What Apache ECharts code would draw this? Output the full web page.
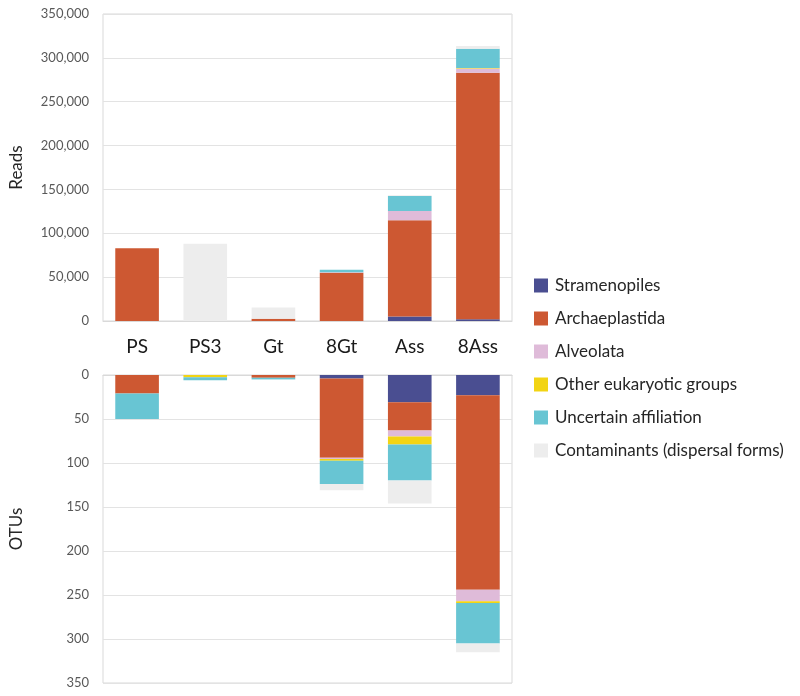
<!DOCTYPE html>
<html><head><meta charset="utf-8">
<script src="https://cdn.jsdelivr.net/npm/echarts@6/dist/echarts.min.js"></script>
<style>html,body{margin:0;padding:0;background:#fff}#c{width:800px;height:696px}</style>
</head><body><div id="c"></div>
<script>
const categories = ['PS','PS3','Gt','8Gt','Ass','8Ass'];
const groups = ['Stramenopiles','Archaeplastida','Alveolata','Other eukaryotic groups','Uncertain affiliation','Contaminants (dispersal forms)'];
const colors = ['#4a4e91','#cd5832','#dfbbd9','#f2d414','#68c5d3','#ededed'];
// Reads (top panel)
const readsStramenopiles = [0, 0, 0, 0, 5000, 2000];
const readsArchaeplastida = [83000, 0, 2500, 55000, 110000, 281000];
const readsAlveolata = [0, 0, 0, 500, 10500, 5000];
const readsOther = [0, 0, 0, 0, 0, 500];
const readsUncertain = [0, 0, 0, 3000, 17000, 22000];
const readsContaminants = [0, 88000, 13000, 0, 1000, 3000];
// OTUs (bottom panel)
const otuStramenopiles = [0, 0, 0, 4, 31, 23];
const otuArchaeplastida = [21, 0, 3, 90, 32, 221];
const otuAlveolata = [0, 0, 0, 1.5, 7, 13];
const otuOther = [0, 2.5, 0, 2, 9, 2];
const otuUncertain = [29, 3.5, 2, 26.5, 41, 46];
const otuContaminants = [0, 0, 0.5, 7, 26, 10];
const readsTicks = [0, 50000, 100000, 150000, 200000, 250000, 300000, 350000];
const otuTicks = [0, 50, 100, 150, 200, 250, 300, 350];

const readsData = [readsStramenopiles, readsArchaeplastida, readsAlveolata, readsOther, readsUncertain, readsContaminants];
const otuData = [otuStramenopiles, otuArchaeplastida, otuAlveolata, otuOther, otuUncertain, otuContaminants];

const FONT = 'Lato';
const chart = echarts.init(document.getElementById('c'));
const series = [];
groups.forEach((g, i) => {
  series.push({name: g, type: 'bar', stack: 'reads', xAxisIndex: 0, yAxisIndex: 0, barWidth: '64%',
    itemStyle: {color: colors[i]}, data: readsData[i]});
});
groups.forEach((g, i) => {
  series.push({name: g, type: 'bar', stack: 'otus', xAxisIndex: 1, yAxisIndex: 1, barWidth: '64%',
    itemStyle: {color: colors[i]}, data: otuData[i]});
});
const gridBox = {show: true, borderColor: '#d9d9d9', borderWidth: 1};
chart.setOption({
  animation: false,
  textStyle: {fontFamily: FONT},
  grid: [
    Object.assign({left: 99, top: 14, width: 413, height: 307}, gridBox),
    Object.assign({left: 99, top: 375, width: 413, height: 308}, gridBox)
  ],
  legend: {
    orient: 'vertical', left: 529, top: 272, itemWidth: 14, itemHeight: 14, itemGap: 16,
    icon: 'rect', data: groups, selectedMode: false,
    textStyle: {fontFamily: FONT, fontSize: 17, color: '#262626', padding: [0, 0, 0, 2]}
  },
  xAxis: [
    {type: 'category', gridIndex: 0, data: categories,
      axisLine: {lineStyle: {color: '#d9d9d9'}}, axisTick: {show: false},
      axisLabel: {color: '#1a1a1a', fontSize: 19, margin: 16, fontFamily: FONT}},
    {type: 'category', gridIndex: 1, data: categories, position: 'top',
      axisLine: {lineStyle: {color: '#d9d9d9'}}, axisTick: {show: false},
      axisLabel: {show: false}}
  ],
  yAxis: [
    {type: 'value', gridIndex: 0, min: 0, max: 350000, interval: 50000,
      name: 'Reads', nameLocation: 'middle', nameGap: 78, nameRotate: 90,
      nameTextStyle: {fontSize: 17, color: '#262626', fontFamily: FONT},
      axisLine: {show: false}, axisTick: {show: false},
      axisLabel: {color: '#595959', fontSize: 13, margin: 14, fontFamily: FONT,
        formatter: v => v.toLocaleString('en-US')},
      splitLine: {lineStyle: {color: '#e3e3e3'}}},
    {type: 'value', gridIndex: 1, min: 0, max: 350, interval: 50, inverse: true,
      name: 'OTUs', nameLocation: 'middle', nameGap: 78, nameRotate: 90,
      nameTextStyle: {fontSize: 17, color: '#262626', fontFamily: FONT},
      axisLine: {show: false}, axisTick: {show: false},
      axisLabel: {color: '#595959', fontSize: 13, margin: 14, fontFamily: FONT},
      splitLine: {lineStyle: {color: '#e3e3e3'}}}
  ],
  series: series
});
</script></body></html>
